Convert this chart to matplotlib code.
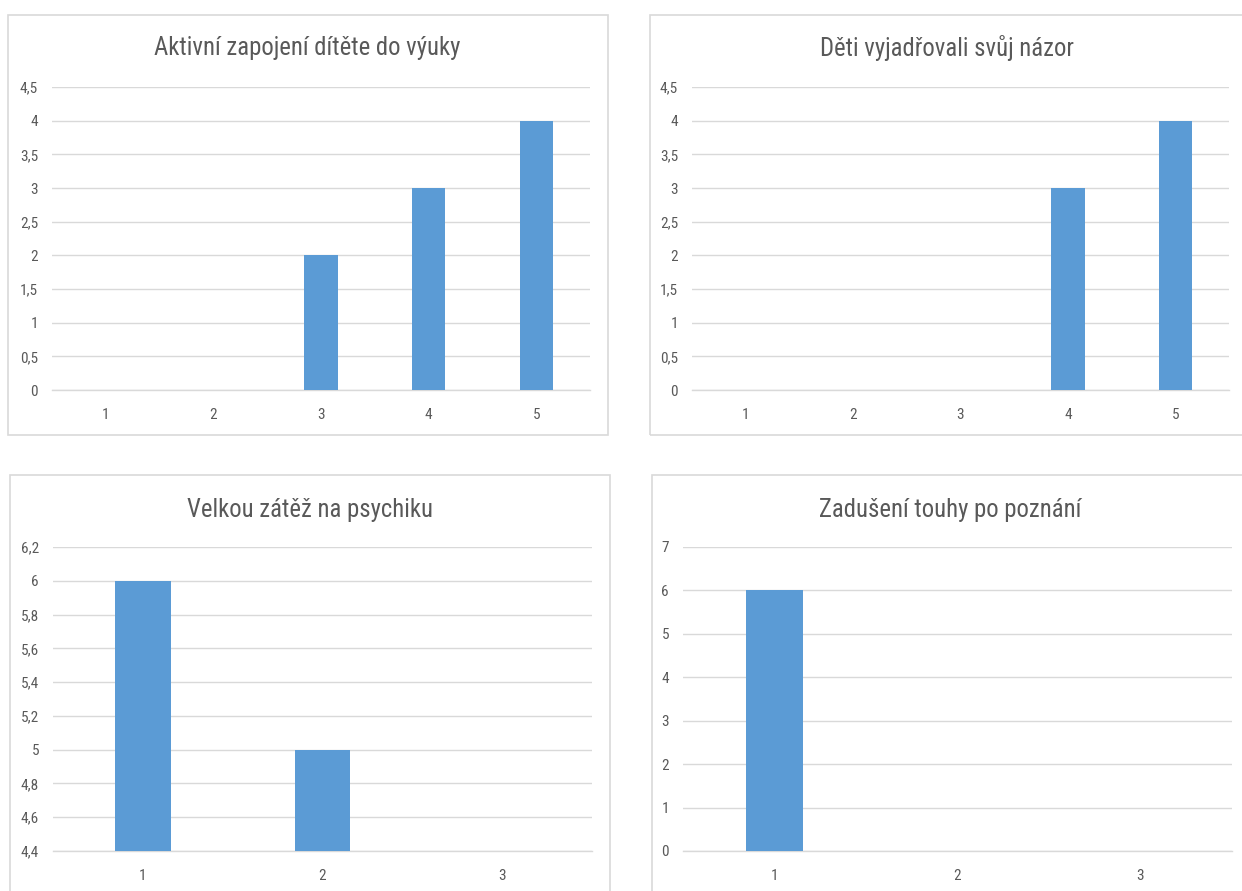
import numpy as np
import matplotlib
matplotlib.use("Agg")
import matplotlib.pyplot as plt
from matplotlib.patches import Rectangle
from matplotlib.ticker import FuncFormatter, MultipleLocator

plt.rcParams['font.family'] = ['Roboto Condensed', 'Open Sans Condensed',
                               'Liberation Sans Narrow', 'Liberation Sans', 'DejaVu Sans']

W, H = 1242, 891
BAR = '#5B9BD5'
GRID = '#D9D9D9'
TEXT = '#595959'

# survey answers, one chart per question
titles = [
    'Aktivní zapojení dítěte do výuky',
    'Děti vyjadřovali svůj názor',
    'Velkou zátěž na psychiku',
    'Zadušení touhy po poznání',
]
cats_5 = ['1', '2', '3', '4', '5']
cats_3 = ['1', '2', '3']
aktivni = [0, 0, 2, 3, 4]
nazor = [0, 0, 0, 3, 4]
zatez = [6, 5, np.nan]
touha = [6, 0, 0]

# y range and step per chart
y_ranges = [(0, 4.5, 0.5), (0, 4.5, 0.5), (4.4, 6.2, 0.2), (0, 7, 1)]

# pixel boxes: (left, top, right, bottom) for frame and plot area
frames = [(8, 15, 608, 435), (650, 15, 1252, 435), (10, 475, 610, 901), (652, 475, 1252, 901)]
plots = [(52, 87, 590, 390), (692, 87, 1229, 390), (53, 547, 592, 851), (683, 547, 1232, 851)]
title_pos = [(307, 48), (947, 48), (310, 510), (950, 510)]

fig = plt.figure(figsize=(W / 100, H / 100), dpi=100)
fig.patch.set_facecolor('white')


def px_box(l, t, r, b):
    return [l / W, 1 - b / H, (r - l) / W, (b - t) / H]


def comma(v, pos):
    s = ('%.1f' % v).rstrip('0').rstrip('.')
    return s.replace('.', ',')


series = [(cats_5, aktivni), (cats_5, nazor), (cats_3, zatez), (cats_3, touha)]

for i, (cats, vals) in enumerate(series):
    fl, ft, fr, fb = frames[i]
    fig.add_artist(Rectangle((fl / W, 1 - fb / H), (fr - fl) / W, (fb - ft) / H,
                             transform=fig.transFigure, fill=False,
                             edgecolor=GRID, linewidth=1.2))

    ax = fig.add_axes(px_box(*plots[i]))
    x = np.arange(1, len(cats) + 1)
    ax.bar(x, vals, width=0.31, color=BAR, zorder=3)

    lo, hi, step = y_ranges[i]
    ax.set_ylim(lo, hi)
    ax.set_xlim(0.5, len(cats) + 0.5)
    ax.yaxis.set_major_locator(MultipleLocator(step))
    ax.yaxis.set_major_formatter(FuncFormatter(comma))
    ax.set_xticks(x)
    ax.set_xticklabels(cats)

    ax.grid(axis='y', color=GRID, linewidth=1.0, zorder=0)
    ax.set_axisbelow(True)
    for side in ['top', 'right', 'left']:
        ax.spines[side].set_visible(False)
    ax.spines['bottom'].set_color(GRID)
    ax.spines['bottom'].set_linewidth(1.0)
    ax.tick_params(axis='both', length=0, labelsize=11, colors=TEXT)
    ax.tick_params(axis='y', pad=10)
    ax.tick_params(axis='x', pad=13)

    tx, ty = title_pos[i]
    fig.text(tx / W, 1 - ty / H, titles[i], ha='center', va='center',
             fontsize=17.8, color=TEXT)

fig.savefig('out.png', dpi=100, facecolor='white')
